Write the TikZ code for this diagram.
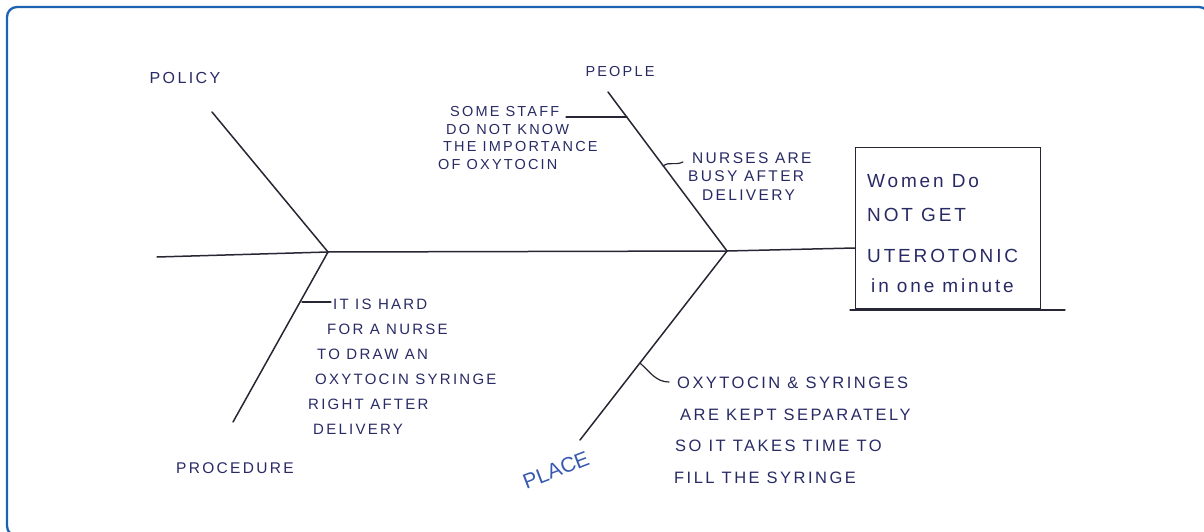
\documentclass[tikz,border=0pt]{standalone}
\usepackage{fontspec}
\newfontfamily\inkfont[LetterSpace=15]{Liberation Sans}
\newfontfamily\penfont{Liberation Sans}
\definecolor{ink}{RGB}{40,42,100}
\definecolor{pen}{RGB}{38,38,52}
\definecolor{placeblue}{RGB}{55,90,175}
\definecolor{frameblue}{RGB}{28,98,178}
\tikzset{
  bone/.style={draw=pen, line width=1.5pt, line cap=round},
  tie/.style={bone, line width=1.2pt},
  note/.style={text=ink, inner sep=0pt, anchor=north west, align=left},
  cause/.style={text=ink, inner sep=0pt, anchor=center},
}
\begin{document}
\begin{tikzpicture}[x=1pt,y=1pt,yscale=-1,xscale=1]
\useasboundingbox (0,0) rectangle (1204,532);

%Shape: Rounded Rectangle [frame]
\draw [draw=frameblue, line width=2.3pt, rounded corners=10pt] (7,7) rectangle (1209,536);

%Shape: Rectangle [effect]
\node (effect) [draw=pen, line width=1.3pt, minimum width=185pt, minimum height=161pt, inner sep=0pt] at (948,228) {};
\draw [bone, line width=1.3pt] (850,310) -- (1065,310);

% joints and bone tips
\coordinate (tail) at (157,257);
\coordinate (jpol) at (328,252);
\coordinate (jpla) at (727,251);
\coordinate (poltip) at (212,112);
\coordinate (protip) at (233,422);
\coordinate (peotip) at (608,92);
\coordinate (platip) at (580,440);

%Straight Lines [spine]
\draw [bone] (tail) -- (jpol) -- (jpla) -- (effect.west |- 0,248);
%Straight Lines [bones]
\draw [bone] (poltip) -- (jpol);
\draw [bone] (jpol) -- (protip);
\draw [bone] (peotip) -- (jpla);
\draw [bone] (jpla) -- (platip);

% Text Node
\node (policy) [cause, font=\inkfont\fontsize{16}{18}\selectfont] at (185,78) {POLICY};
% Text Node
\node (people) [cause, font=\inkfont\fontsize{14.5}{17}\selectfont] at (620,72) {PEOPLE};
% Text Node
\node (procedure) [cause, font=\inkfont\fontsize{15.5}{18}\selectfont] at (235,468) {PROCEDURE};
% Text Node
\node (place) [cause, text=placeblue, rotate=21, font=\penfont\fontsize{21}{23}\selectfont] at (556,470) {PLACE};

% Text Node
\node (staff) [note, font=\inkfont\fontsize{14.5}{17.7}\selectfont] at (438,106)
  {\hspace{12pt}SOME STAFF\\\hspace{8pt}DO NOT KNOW\\\hspace{5pt}THE IMPORTANCE\\OF OXYTOCIN};
% Text Node
\node (busy) [note, font=\inkfont\fontsize{15.5}{18.5}\selectfont] at (688,152)
  {\hspace{4pt}NURSES ARE\\BUSY AFTER\\\hspace{14pt}DELIVERY};
% Text Node
\node (hard) [note, font=\inkfont\fontsize{15}{25}\selectfont] at (308,299)
  {\hspace{25pt}IT IS HARD\\\hspace{19pt}FOR A NURSE\\\hspace{9pt}TO DRAW AN\\\hspace{7pt}OXYTOCIN SYRINGE\\RIGHT AFTER\\\hspace{5pt}DELIVERY};
% Text Node
\node (apart) [note, font=\inkfont\fontsize{16.5}{31.5}\selectfont] at (674,377)
  {\hspace{3pt}OXYTOCIN \& SYRINGES\\\hspace{6pt}ARE KEPT SEPARATELY\\\hspace{1pt}SO IT TAKES TIME TO\\FILL THE SYRINGE};
% Text Node
\node (womentext) [note, font=\inkfont\fontsize{19}{34}\selectfont] at (867,174)
  {Women Do\\NOT GET\\[7pt]UTEROTONIC\\[-4pt]\hspace{4pt}in one minute};

%Straight Lines [ties]
\coordinate (staffend) at (566,117);
\coordinate (hardend) at (331,302);
\draw [tie] (staffend) -- (627,117);
\draw [tie] (663,166) .. controls (670,161) and (674,166) .. (683,162);
\draw [tie] (302,302) -- (hardend);
\draw [tie] (640,363) .. controls (650,372) and (656,382) .. (669,382);

\end{tikzpicture}
\end{document}
